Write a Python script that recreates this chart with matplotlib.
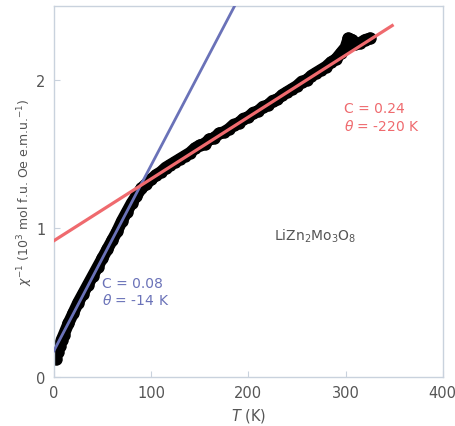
import numpy as np
import matplotlib
matplotlib.use("Agg")
import matplotlib.pyplot as plt

# measured inverse susceptibility (10^3 mol f.u. Oe / emu) vs temperature (K)
T = [2, 4, 6, 8, 10, 15, 20, 25, 30, 35, 40, 45, 50, 55, 60, 65, 70, 75, 80, 85,
     90, 95, 100, 105, 110, 115, 120, 125, 130, 135, 140, 145, 150, 155, 160, 165,
     170, 175, 180, 185, 190, 195, 200, 205, 210, 215, 220, 225, 230, 235, 240,
     245, 250, 255, 260, 265, 270, 275, 280, 285, 290, 295, 300, 303, 307, 310,
     315, 320, 325]
chi_inv = [0.12, 0.17, 0.21, 0.25, 0.28, 0.36, 0.43, 0.50, 0.56, 0.62, 0.68, 0.74,
           0.80, 0.86, 0.92, 0.98, 1.05, 1.11, 1.17, 1.22, 1.27, 1.30, 1.33, 1.36,
           1.38, 1.41, 1.43, 1.45, 1.47, 1.49, 1.51, 1.54, 1.56, 1.57, 1.60, 1.61,
           1.64, 1.65, 1.67, 1.70, 1.71, 1.74, 1.75, 1.78, 1.79, 1.82, 1.83, 1.86,
           1.87, 1.90, 1.92, 1.94, 1.96, 1.99, 2.00, 2.03, 2.05, 2.07, 2.09, 2.12,
           2.14, 2.18, 2.22, 2.28, 2.27, 2.24, 2.25, 2.27, 2.28]

# Curie-Weiss fit lines (end points)
low_T = [0, 190]
low_fit = [0.175, 2.55]
high_T = [0, 348]
high_fit = [0.917, 2.367]

blue = '#6a72b8'
red = '#ef6a6e'
grey = '#555555'
spine_c = '#c9d2dd'

fig = plt.figure(figsize=(4.56, 4.27), dpi=100)
ax = fig.add_axes([0.118, 0.115, 0.853, 0.869])

# dense measured points drawn as a thick band
ax.plot(T, chi_inv, color='black', linewidth=8.5, solid_capstyle='round',
        solid_joinstyle='round', zorder=2)
ax.plot(T, chi_inv, 'o', color='black', markersize=9, markeredgewidth=0, zorder=2)
ax.plot(low_T, low_fit, color=blue, linewidth=2.0, zorder=3)
ax.plot(high_T, high_fit, color=red, linewidth=2.3, zorder=3)

ax.set_xlim(0, 400)
ax.set_ylim(0, 2.5)
ax.set_xticks([0, 100, 200, 300, 400])
ax.set_yticks([0, 1, 2])
ax.tick_params(direction='in', length=4, color=spine_c, labelcolor=grey,
               labelsize=10.5, pad=6)
for s in ax.spines.values():
    s.set_color(spine_c)
    s.set_linewidth(1.0)

ax.set_xlabel(r'$T$ (K)', color=grey, fontsize=10.5, labelpad=4)
ax.set_ylabel(r'$\chi^{-1}$ (10$^3$ mol f.u. Oe e.m.u.$^{-1}$)', color=grey,
              fontsize=9, labelpad=1)

ax.text(50, 0.575, 'C = 0.08\n' + r'$\theta$ = -14 K', color=blue, fontsize=10,
        ha='left', va='center', linespacing=1.2)
ax.text(298, 1.75, 'C = 0.24\n' + r'$\theta$ = -220 K', color=red, fontsize=10,
        ha='left', va='center', linespacing=1.2)
ax.text(226, 0.955, r'LiZn$_2$Mo$_3$O$_8$', color=grey, fontsize=10,
        ha='left', va='center')

fig.savefig('out.png', dpi=100)
